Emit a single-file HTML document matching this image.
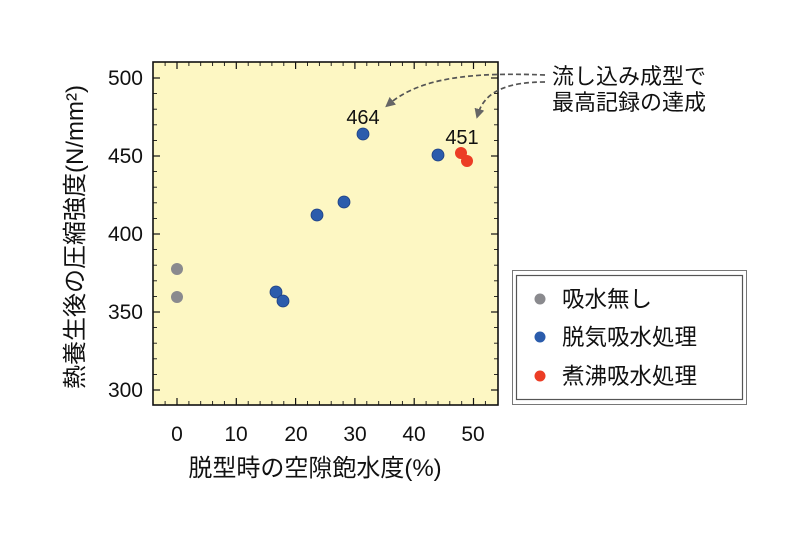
<!DOCTYPE html>
<html><head><meta charset="utf-8"><style>
html,body{margin:0;padding:0;background:#fff;}
svg{display:block;font-family:"Liberation Sans","Noto Sans CJK JP",sans-serif;}
</style></head><body>
<svg width="800" height="533" viewBox="0 0 800 533" xmlns="http://www.w3.org/2000/svg">
<defs>
<marker id="ah" markerWidth="10" markerHeight="10" refX="5" refY="5" orient="auto" markerUnits="userSpaceOnUse">
<path d="M0,0 L10,5 L0,10 Z" fill="#666"/>
</marker>
</defs>
<rect x="153" y="62" width="345" height="343" fill="#fdf7c3" stroke="#111" stroke-width="1.6"/>
<g stroke="#111" stroke-width="1.2">
<line x1="177" y1="405" x2="177" y2="398"/><line x1="236.3" y1="405" x2="236.3" y2="398"/><line x1="295.6" y1="405" x2="295.6" y2="398"/><line x1="354.9" y1="405" x2="354.9" y2="398"/><line x1="414.2" y1="405" x2="414.2" y2="398"/><line x1="473.5" y1="405" x2="473.5" y2="398"/>
<line x1="177" y1="62" x2="177" y2="69"/><line x1="236.3" y1="62" x2="236.3" y2="69"/><line x1="295.6" y1="62" x2="295.6" y2="69"/><line x1="354.9" y1="62" x2="354.9" y2="69"/><line x1="414.2" y1="62" x2="414.2" y2="69"/><line x1="473.5" y1="62" x2="473.5" y2="69"/>
<line x1="153" y1="78" x2="160" y2="78"/><line x1="153" y1="156" x2="160" y2="156"/><line x1="153" y1="234" x2="160" y2="234"/><line x1="153" y1="312" x2="160" y2="312"/><line x1="153" y1="390" x2="160" y2="390"/>
<line x1="498" y1="78" x2="491" y2="78"/><line x1="498" y1="156" x2="491" y2="156"/><line x1="498" y1="234" x2="491" y2="234"/><line x1="498" y1="312" x2="491" y2="312"/><line x1="498" y1="390" x2="491" y2="390"/>
</g>
<g stroke="#111" stroke-width="0.9">
<path d="M165.1,405v-4M188.9,405v-4M200.7,405v-4M212.6,405v-4M224.4,405v-4M248.2,405v-4M260.1,405v-4M271.9,405v-4M283.8,405v-4M307.5,405v-4M319.4,405v-4M331.2,405v-4M343.1,405v-4M366.8,405v-4M378.7,405v-4M390.5,405v-4M402.4,405v-4M426.1,405v-4M438,405v-4M449.8,405v-4M461.7,405v-4M485.4,405v-4"/>
<path d="M165.1,62v4M188.9,62v4M200.7,62v4M212.6,62v4M224.4,62v4M248.2,62v4M260.1,62v4M271.9,62v4M283.8,62v4M307.5,62v4M319.4,62v4M331.2,62v4M343.1,62v4M366.8,62v4M378.7,62v4M390.5,62v4M402.4,62v4M426.1,62v4M438,62v4M449.8,62v4M461.7,62v4M485.4,62v4"/>
<path d="M153,93.6h4M153,109.2h4M153,124.8h4M153,140.4h4M153,171.6h4M153,187.2h4M153,202.8h4M153,218.4h4M153,249.6h4M153,265.2h4M153,280.8h4M153,296.4h4M153,327.6h4M153,343.2h4M153,358.8h4M153,374.4h4"/>
<path d="M498,93.6h-4M498,109.2h-4M498,124.8h-4M498,140.4h-4M498,171.6h-4M498,187.2h-4M498,202.8h-4M498,218.4h-4M498,249.6h-4M498,265.2h-4M498,280.8h-4M498,296.4h-4M498,327.6h-4M498,343.2h-4M498,358.8h-4M498,374.4h-4"/>
</g>
<g font-size="21" fill="#111" text-anchor="end">
<text x="143" y="85">500</text><text x="143" y="163">450</text><text x="143" y="241">400</text><text x="143" y="319">350</text><text x="143" y="397">300</text>
</g>
<g font-size="21" fill="#111" text-anchor="middle">
<text x="177" y="441">0</text><text x="236" y="441">10</text><text x="296" y="441">20</text><text x="355" y="441">30</text><text x="414" y="441">40</text><text x="473" y="441">50</text>
</g>
<text x="315" y="476" font-size="24" text-anchor="middle" fill="#111">脱型時の空隙飽水度(%)</text>
<text transform="translate(83,237) rotate(-90)" font-size="24" text-anchor="middle" fill="#111">熱養生後の圧縮強度(N/mm²)</text>
<g>
<circle cx="177" cy="269" r="6" fill="#8a8a8e"/><circle cx="177" cy="297" r="6" fill="#8a8a8e"/>
<g fill="#2b5cac" stroke="#1d3f80" stroke-width="0.8">
<circle cx="276" cy="292" r="6"/><circle cx="283" cy="301" r="6"/><circle cx="317" cy="215" r="6"/><circle cx="344" cy="202" r="6"/><circle cx="363" cy="134" r="6"/><circle cx="438" cy="155" r="6"/>
</g>
<g fill="#ec3d25"><circle cx="461" cy="153" r="6"/><circle cx="467" cy="161" r="6"/></g>
</g>
<text x="363" y="124" font-size="20" text-anchor="middle" fill="#111">464</text>
<text x="462" y="144" font-size="20" text-anchor="middle" fill="#111">451</text>
<g fill="none" stroke="#555" stroke-width="1.7" stroke-dasharray="5,3">
<path d="M545,75 C470,72 420,78 389,104" marker-end="url(#ah)"/>
<path d="M545,82 C510,82 485,90 478,114" marker-end="url(#ah)"/>
</g>
<text x="552" y="84" font-size="22" fill="#111">流し込み成型で</text>
<text x="552" y="110" font-size="22" fill="#111">最高記録の達成</text>
<rect x="512.5" y="270.5" width="234" height="134" fill="#fff" stroke="#777" stroke-width="1"/>
<rect x="516.5" y="275.5" width="226" height="124" fill="#fff" stroke="#555" stroke-width="1.2"/>
<circle cx="540" cy="299" r="5.5" fill="#8a8a8e"/>
<circle cx="540" cy="337" r="5.5" fill="#2b5cac"/>
<circle cx="540" cy="376" r="5.5" fill="#ec3d25"/>
<g font-size="22.5" fill="#111">
<text x="562" y="307">吸水無し</text>
<text x="562" y="345">脱気吸水処理</text>
<text x="562" y="384">煮沸吸水処理</text>
</g>
</svg>
</body></html>
